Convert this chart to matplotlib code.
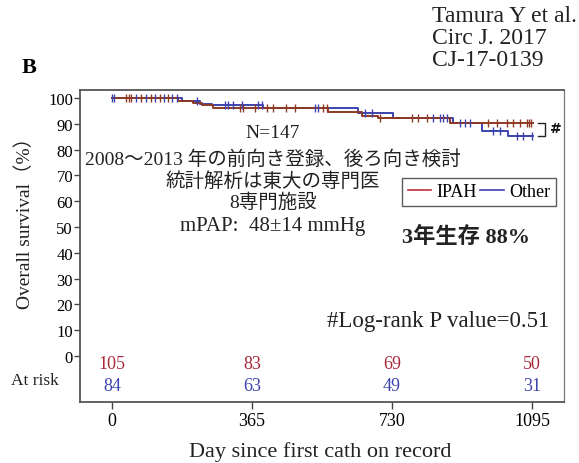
import numpy as np
import matplotlib
matplotlib.use("Agg")
import matplotlib.pyplot as plt
from matplotlib.lines import Line2D

SERIF = ['Liberation Serif', 'Noto Sans CJK JP', 'DejaVu Sans']
plt.rcParams['font.family'] = SERIF

# Kaplan-Meier steps: event day -> survival (%)
ipah_times = [0, 173, 212, 234, 264, 564, 651, 694, 881]
ipah_surv = [100, 99.0, 98.1, 97.3, 96.1, 94.5, 93.2, 92.2, 90.2]
ipah_end = 1098
ipah_censor = [38, 45, 51, 75, 101, 125, 147, 334, 342, 372, 403, 420, 455,
               477, 550, 560, 699, 781, 798, 820, 981, 1003, 1029, 1046,
               1064, 1081, 1086, 1092]

other_times = [0, 182, 229, 260, 395, 642, 733, 890, 964, 1033]
other_surv = [100, 98.7, 97.7, 97.3, 96.1, 94.1, 92.2, 90.2, 87.3, 85.2]
other_end = 1098
other_censor = [0, 5, 62, 88, 112, 136, 156, 169, 221, 295, 302, 316, 339,
                381, 391, 529, 537, 660, 678, 837, 855, 863, 873, 907, 920,
                933, 994, 1012, 1055, 1072, 1094]

# Numbers at risk
risk_days = [0, 365, 730, 1095]
ipah_at_risk = [105, 83, 69, 50]
other_at_risk = [84, 63, 49, 31]

y_ticks = list(range(0, 101, 10))
series_names = ["IPAH", "Other"]

RED_LINE = "#8E3A24"
RED_TEXT = "#A8283A"
RED_LEG = "#C0303A"
BLUE = "#3C43AE"
GRAY = "#444444"

W, H = 579, 464
fig = plt.figure(figsize=(W / 100, H / 100), dpi=100)
fig.patch.set_facecolor("white")


def fx(px):
    return px / W


def fy(py):
    return 1 - py / H


ax = fig.add_axes([fx(80), fy(403), fx(564) - fx(80), fy(91) - fy(403)])
ax.set_xlim(-83, 1178)
ax.set_ylim(-17.8, 103.1)


def km_curve(times, surv, end):
    xs = list(times) + [end]
    ys = list(surv) + [surv[-1]]
    return xs, ys


def level_at(times, surv, t):
    idx = np.searchsorted(times, t, side="right") - 1
    return np.asarray(surv)[idx]


xo, yo = km_curve(other_times, other_surv, other_end)
xi, yi = km_curve(ipah_times, ipah_surv, ipah_end)
ax.step(xo, yo, where="post", color=BLUE, lw=1.4, zorder=3)
ax.step(xi, yi, where="post", color=RED_LINE, lw=1.4, zorder=4)
ax.plot(ipah_censor, level_at(ipah_times, ipah_surv, ipah_censor), ls="none",
        marker="|", ms=6, mew=1.0, color=RED_LINE, zorder=5)
ax.plot(other_censor, level_at(other_times, other_surv, other_censor), ls="none",
        marker="|", ms=6, mew=1.0, color=BLUE, zorder=5)

# bracket marking the log-rank comparison at the end of follow-up
bx0, bx1 = 1110, 1129
ax.plot([bx0, bx1, bx1, bx0], [ipah_surv[-1], ipah_surv[-1], other_surv[-1], other_surv[-1]],
        color="#222222", lw=1.0, clip_on=False)
ax.text(1142, (ipah_surv[-1] + other_surv[-1]) / 2 + 0.8, "#", fontsize=10,
        fontweight="bold", ha="left", va="center", color="#111111",
        family="DejaVu Sans")

# numbers at risk inside the frame
for d, a, b in zip(risk_days, ipah_at_risk, other_at_risk):
    ax.text(d, -2.7, str(a), color=RED_TEXT, fontsize=13, ha="center", va="center")
    ax.text(d, -11.3, str(b), color=BLUE, fontsize=13, ha="center", va="center")
fig.text(fx(35), fy(381), "At risk", fontsize=12.5, ha="center", va="center", color="#222222")

ax.set_yticks(y_ticks)
ax.set_yticklabels([str(v) for v in y_ticks])
ax.set_xticks(risk_days)
ax.set_xticklabels([str(d) for d in risk_days])
ax.tick_params(axis="y", labelsize=12, length=4, width=1, color=GRAY, pad=1)
ax.tick_params(axis="x", labelsize=13, length=5, width=1, color=GRAY, pad=2)
for s in ax.spines.values():
    s.set_color("#555555")
    s.set_linewidth(1.3)
ax.spines["right"].set_linewidth(0.9)
ax.spines["right"].set_color("#777777")

fig.text(fx(320), fy(452), "Day since first cath on record", fontsize=16,
         ha="center", va="center", color="#222222")
fig.text(fx(25), fy(218), "Overall survival（%）", rotation=90, fontsize=14,
         ha="center", va="center", color="#222222")

# study notes
notes = [
    ("N=147", 133, 14),
    ("2008〜2013 年の前向き登録、後ろ向き検討", 159, 14),
    ("統計解析は東大の専門医", 182, 14),
    ("8専門施設", 203, 14),
    ("mPAP:  48±14 mmHg", 227, 15),
]
for txt, py, fs in notes:
    fig.text(fx(273), fy(py), txt, fontsize=fs, ha="center", va="center", color="#222222")

fig.text(fx(466), fy(237), "3年生存 88%", fontsize=16, fontweight="bold",
         ha="center", va="center", color="#222222")
fig.text(fx(438), fy(322), "#Log-rank P value=0.51", fontsize=16.5,
         ha="center", va="center", color="#222222")

handles = [Line2D([], [], color=RED_LEG, lw=1.2), Line2D([], [], color=BLUE, lw=1.2)]
leg = ax.legend(handles, series_names, ncol=2, loc="center",
                bbox_to_anchor=(fx(479), fy(193)), bbox_transform=fig.transFigure,
                fontsize=13, handlelength=1.3, handletextpad=0.3, columnspacing=0.2,
                frameon=True, fancybox=False, borderpad=0.3, borderaxespad=0)
leg.get_frame().set_edgecolor("#333333")
leg.get_frame().set_linewidth(1.0)

# panel letter and citation
fig.text(fx(22), fy(68), "B", fontsize=16, fontweight="bold", ha="left", va="center")
for txt, py in [("Tamura Y et al.", 16), ("Circ J. 2017", 38), ("CJ-17-0139", 60)]:
    fig.text(fx(432), fy(py), txt, fontsize=17, ha="left", va="center", color="#222222")

fig.savefig("out.png", dpi=100, facecolor="white")
